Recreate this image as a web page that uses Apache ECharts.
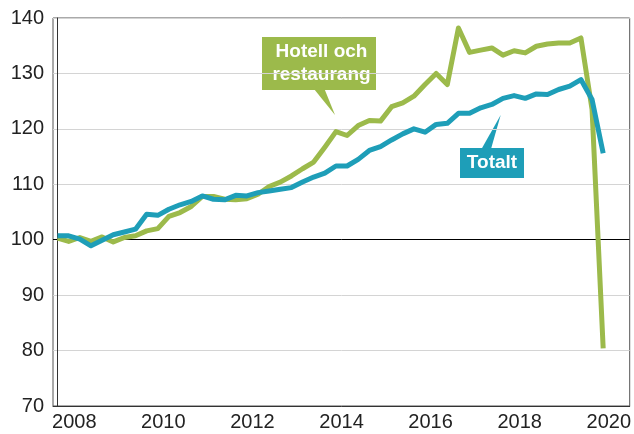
<!DOCTYPE html>
<html>
<head>
<meta charset="utf-8">
<script src="https://cdn.jsdelivr.net/npm/echarts@6/dist/echarts.min.js"></script>
<style>
  html, body { margin: 0; padding: 0; background: #fff; }
  #chart { width: 634px; height: 434px; }
</style>
</head>
<body>
<div id="chart"></div>
<script>
// kvartal 2008K1 .. 2020K2, index 0..49
var quarters = [];
for (var y = 2008; y <= 2020; y++) {
  for (var q = 1; q <= 4; q++) {
    if (y === 2020 && q > 2) break;
    quarters.push(y + 'K' + q);
  }
}
var yearLabels = ['2008', '2010', '2012', '2014', '2016', '2018', '2020'];
// label sits mid-year (between K2 and K3)
var yearLabelPos = [1.5, 9.5, 17.5, 25.5, 33.5, 41.5, 49.5];

var hotellRestaurang = [
  100.3, 99.7, 100.4, 99.7, 100.5, 99.6, 100.4, 100.7,
  101.6, 102.0, 104.2, 104.9, 106.0, 107.8, 107.8, 107.3,
  107.2, 107.4, 108.2, 109.6, 110.4, 111.5, 112.8, 114.0,
  116.7, 119.5, 118.8, 120.6, 121.5, 121.4, 124.0, 124.7,
  125.9, 128.0, 130.0, 128.0, 138.2, 133.8, 134.2, 134.6,
  133.3, 134.1, 133.7, 134.9, 135.3, 135.5, 135.5, 136.4,
  123.5, 80.4
];
var totalt = [
  100.7, 100.7, 100.1, 98.9, 99.9, 100.9, 101.4, 101.9,
  104.6, 104.4, 105.5, 106.3, 106.9, 107.9, 107.3, 107.2,
  108.0, 107.9, 108.5, 108.8, 109.1, 109.4, 110.4, 111.3,
  112.0, 113.3, 113.3, 114.5, 116.1, 116.8, 118.0, 119.1,
  120.0, 119.4, 120.8, 121.0, 122.8, 122.8, 123.8, 124.4,
  125.5, 126.0, 125.5, 126.3, 126.2, 127.1, 127.7, 128.9,
  125.3, 115.6
];

var green = '#9cba4b';
var blue = '#1e9eb8';

function pairs(vals) {
  return vals.map(function (v, i) { return [i, v]; });
}

var chart = echarts.init(document.getElementById('chart'));
chart.setOption({
  animation: false,
  textStyle: { fontFamily: 'Liberation Sans, Arial, sans-serif' },
  grid: {
    left: 53, right: 3, top: 18, bottom: 28,
    show: true, borderColor: '#555', borderWidth: 1
  },
  xAxis: {
    type: 'value',
    min: -0.41,
    max: 51.38,
    axisLine: { show: true, onZero: false, lineStyle: { color: '#333', width: 1 } },
    axisTick: { show: false },
    splitLine: { show: false },
    axisLabel: {
      customValues: yearLabelPos,
      formatter: function (v) {
        return yearLabels[yearLabelPos.indexOf(v)];
      },
      color: '#222', fontSize: 20, margin: 6
    }
  },
  yAxis: {
    type: 'value',
    min: 70, max: 140, interval: 10,
    axisLine: { show: true, lineStyle: { color: '#333', width: 1 } },
    axisTick: { show: false },
    splitLine: { show: true, lineStyle: { color: '#d4d4d4', width: 1 } },
    axisLabel: { color: '#222', fontSize: 20, margin: 9 }
  },
  series: [
    {
      name: 'Hotell och restaurang',
      type: 'line',
      data: pairs(hotellRestaurang),
      showSymbol: false,
      lineStyle: { color: green, width: 5, join: 'round' },
      z: 2,
      markLine: {
        silent: true,
        symbol: 'none',
        label: { show: false },
        lineStyle: { color: '#000', width: 1, type: 'solid' },
        data: [{ yAxis: 100 }],
        z: 1
      }
    },
    {
      name: 'Totalt',
      type: 'line',
      data: pairs(totalt),
      showSymbol: false,
      lineStyle: { color: blue, width: 5, join: 'round' },
      z: 3
    }
  ],
  graphic: [
    {
      type: 'group',
      children: [
        { type: 'rect', shape: { x: 262, y: 37, width: 114, height: 53 }, style: { fill: green } },
        { type: 'polygon', shape: { points: [[314, 89], [324.5, 89], [335, 115]] }, style: { fill: green } },
        {
          type: 'text', x: 321.5, y: 63,
          style: {
            text: 'Hotell och\nrestaurang', fill: '#fff',
            font: 'bold 19px Liberation Sans, Arial, sans-serif',
            align: 'center', verticalAlign: 'middle', lineHeight: 23
          }
        }
      ]
    },
    {
      type: 'group',
      children: [
        { type: 'rect', shape: { x: 460, y: 148, width: 64, height: 30 }, style: { fill: blue } },
        { type: 'polygon', shape: { points: [[481.5, 149], [491, 149], [500.7, 115]] }, style: { fill: blue } },
        {
          type: 'text', x: 492, y: 162.5,
          style: {
            text: 'Totalt', fill: '#fff',
            font: 'bold 19px Liberation Sans, Arial, sans-serif',
            align: 'center', verticalAlign: 'middle'
          }
        }
      ]
    }
  ]
});
</script>
</body>
</html>
